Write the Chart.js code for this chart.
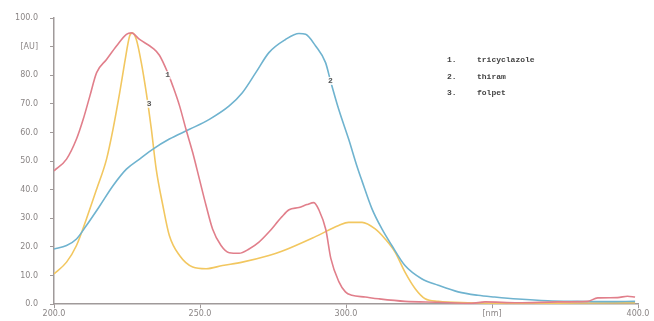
<!DOCTYPE html>
<html>
<head>
<meta charset="utf-8">
<script src="https://cdn.jsdelivr.net/npm/chart.js@4"></script>
<style>
  html, body { margin: 0; padding: 0; background: #fff; }
  #wrap { width: 654px; height: 321px; }
</style>
</head>
<body>
<div id="wrap"><canvas id="myChart" width="654" height="321"></canvas></div>
<script>
// wavelength (nm) and absorbance (AU)
const seriesNames = ["tricyclazole", "thiram", "folpet"];

const redNm = [200, 204.3, 207.7, 210, 212.3, 214.6, 218, 221.4, 224.8, 226.5, 229.3, 233.8, 236.1, 238.9, 240.7, 243, 245.2, 247.5, 249.8, 252.1, 254.3, 257.2, 260, 263.4, 266.8, 270.2, 273.6, 278, 280.5, 283.9, 286.6, 289, 290.7, 293.1, 294.8, 297.5, 299.8, 302, 306.6, 311.1, 320.2, 331.6, 342.9, 347.6, 358.9, 372.5, 382.7, 386.2, 393, 396.4, 399];
const redAu = [46.6, 50.7, 57.7, 64.6, 72.8, 80.9, 85.5, 90.2, 94.3, 94.8, 92.5, 89.5, 87, 81, 76.2, 69.3, 61.1, 53, 43.7, 34.4, 26.3, 20.5, 18, 17.8, 19.3, 21.7, 25.2, 30.5, 33, 33.8, 34.8, 35.5, 33, 26, 16, 8, 4.3, 3.1, 2.5, 1.9, 1, 0.7, 0.3, 0.8, 0.5, 0.8, 1, 2.2, 2.3, 2.8, 2.5];

const blueNm = [200, 204.3, 207.7, 211.1, 215.7, 220.2, 224.8, 229.3, 233.9, 239.5, 246.4, 253.2, 260, 264.5, 269.1, 273.6, 279.3, 283.9, 286.2, 289.6, 293, 294.7, 297.5, 300.9, 303.7, 305.5, 308.9, 312.3, 315.7, 320.2, 325.9, 331.6, 338.4, 345.2, 350.9, 358.9, 369.1, 379.3, 389.6, 399];
const blueAu = [19.3, 20.5, 22.8, 27.5, 34.4, 41.4, 47.2, 50.7, 54.2, 57.7, 61.1, 64.6, 69.3, 73.9, 80.9, 87.9, 92.5, 94.6, 94.3, 90.2, 84.4, 78, 68.1, 57.7, 48.4, 43, 33.3, 26.3, 20.5, 13.5, 8.9, 6.6, 4.3, 3.1, 2.5, 1.8, 1.2, 1, 0.9, 1];

const yellowNm = [200, 204.3, 207.7, 211.1, 214.6, 218, 220.2, 222.5, 224.2, 225.9, 226.8, 228.2, 229.9, 231.6, 233.3, 235, 237.3, 239.5, 243, 247.5, 252.1, 257.7, 264.5, 273.6, 278, 289.7, 297.5, 300.9, 305.5, 310, 313.4, 316.8, 320.2, 323.7, 327.1, 331.6, 341.8, 358.9, 379.3, 399];
const yellowAu = [10.6, 14.7, 20.5, 29.8, 40.2, 50.7, 61.1, 73.9, 84.4, 93.7, 94.8, 92.5, 84.4, 73.9, 61.5, 47.2, 34.4, 24, 17, 13, 12.4, 13.5, 14.7, 17, 18.5, 23.7, 27.5, 28.6, 28.6, 26.3, 22.8, 18.2, 11.2, 5.4, 1.9, 1, 0.5, 0.3, 0.4, 0.5];

// curve numbers placed on the traces
const curveTags = [
    { text: "1", x: 238.9, y: 80 },
    { text: "2", x: 294.7, y: 78 },
    { text: "3", x: 232.6, y: 70 }
];

const toPoints = (xs, ys) => xs.map((x, i) => ({ x: x, y: ys[i] }));

const overlayText = {
    id: 'overlayText',
    afterDatasetsDraw(chart) {
        const c = chart.ctx;
        const xs = chart.scales.x, ys = chart.scales.y;
        c.save();
        // tags on the curves
        c.font = 'bold 8px "Liberation Mono"';
        c.textAlign = 'center';
        c.textBaseline = 'middle';
        curveTags.forEach(t => {
            const px = xs.getPixelForValue(t.x), py = ys.getPixelForValue(t.y);
            c.fillStyle = 'rgba(255,255,255,0.85)';
            c.fillRect(px - 3, py - 4, 6, 8);
            c.fillStyle = '#555';
            c.fillText(t.text, px, py);
        });
        // legend block in the upper right
        c.textAlign = 'left';
        c.fillStyle = '#444';
        seriesNames.forEach((name, i) => {
            const y = 60 + i * 16.5;
            c.fillText((i + 1) + ".", 447, y);
            c.fillText(name, 477, y);
        });
        c.restore();
    }
};

let chart = new Chart(document.getElementById('myChart').getContext('2d'), {
    type: 'line',
    data: {
        datasets: [
            { label: seriesNames[0], data: toPoints(redNm, redAu), borderColor: '#e17f8b' },
            { label: seriesNames[1], data: toPoints(blueNm, blueAu), borderColor: '#6fb3cf' },
            { label: seriesNames[2], data: toPoints(yellowNm, yellowAu), borderColor: '#f2c760' }
        ]
    },
    options: {
        responsive: false,
        animation: false,
        layout: { padding: { left: 0, right: 16, top: 18, bottom: 0 } },
        elements: {
            point: { radius: 0 },
            line: { borderWidth: 1.6, cubicInterpolationMode: 'monotone', fill: false }
        },
        plugins: { legend: { display: false }, tooltip: { enabled: false } },
        scales: {
            x: {
                type: 'linear',
                min: 200,
                max: 400,
                afterFit: s => { s.height = 16; },
                border: { color: '#a09a9a', width: 1.5 },
                grid: { drawOnChartArea: false, drawTicks: true, tickLength: 4, color: '#a09a9a' },
                ticks: {
                    stepSize: 50,
                    maxRotation: 0,
                    padding: 1,
                    color: '#8a8585',
                    font: { size: 8, family: 'DejaVu Sans' },
                    callback: v => v === 350 ? '[nm]' : v.toFixed(1)
                }
            },
            y: {
                min: 0,
                max: 100,
                afterFit: s => { s.width = 54; },
                border: { color: '#a09a9a', width: 1.5 },
                grid: { drawOnChartArea: false, drawTicks: true, tickLength: 4, color: '#a09a9a' },
                ticks: {
                    stepSize: 10,
                    padding: 12,
                    color: '#8a8585',
                    font: { size: 8, family: 'DejaVu Sans' },
                    callback: v => v === 90 ? '[AU]' : v.toFixed(1)
                }
            }
        }
    },
    plugins: [overlayText]
});
</script>
</body>
</html>
